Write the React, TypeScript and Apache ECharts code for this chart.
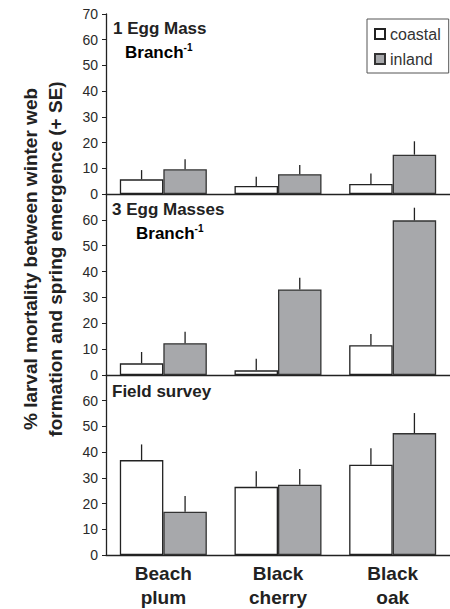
import React, { useEffect, useRef } from "react";
import * as echarts from "echarts";

const categories = ["Beach\nplum", "Black\ncherry", "Black\noak"];
const yTicks = { min: 0, max: 70, interval: 10 };

// Panel 1: 1 Egg Mass Branch-1
const p1Coastal = [5.7, 3.1, 3.9];
const p1CoastalSE = [3.6, 3.6, 4.1];
const p1Inland = [9.6, 7.7, 15.3];
const p1InlandSE = [3.9, 3.6, 5.2];
// Panel 2: 3 Egg Masses Branch-1
const p2Coastal = [4.5, 1.8, 11.5];
const p2CoastalSE = [4.4, 4.5, 4.4];
const p2Inland = [12.3, 33.1, 59.8];
const p2InlandSE = [4.4, 4.5, 4.9];
// Panel 3: Field survey
const p3Coastal = [36.9, 26.5, 35.1];
const p3CoastalSE = [6.1, 6.1, 6.4];
const p3Inland = [16.8, 27.3, 47.4];
const p3InlandSE = [6.1, 6.1, 7.8];

const FONT = "'Liberation Sans', Arial, sans-serif";
const TXT = "#222";
const BAR_W = 43.5;
const COASTAL_FILL = "#ffffff";
const INLAND_FILL = "#a7a8ab";

export default function App() {
  const ref = useRef<HTMLDivElement>(null);
  useEffect(() => {
    if (!ref.current) return;
    const chart = echarts.init(ref.current, null, { renderer: "svg" });

    const panels = [
      { c: p1Coastal, cse: p1CoastalSE, i: p1Inland, ise: p1InlandSE },
      { c: p2Coastal, cse: p2CoastalSE, i: p2Inland, ise: p2InlandSE },
      { c: p3Coastal, cse: p3CoastalSE, i: p3Inland, ise: p3InlandSE },
    ];
    const gridTops = [14, 194, 375];
    const gridHeights = [180, 181, 180];

    const grids = gridTops.map((t, k) => ({ left: 106, width: 347, top: t, height: gridHeights[k] }));
    const xAxes = gridTops.map((_, k) => ({
      type: "category",
      gridIndex: k,
      data: categories,
      axisTick: { show: false },
      axisLine: { lineStyle: { color: TXT, width: 1.3 } },
      axisLabel: {
        show: k === 2,
        color: TXT,
        fontFamily: FONT,
        fontSize: 19,
        fontWeight: "bold",
        lineHeight: 24,
        margin: 6,
      },
    }));
    const yAxes = gridTops.map((_, k) => ({
      type: "value",
      gridIndex: k,
      min: yTicks.min,
      max: yTicks.max,
      interval: yTicks.interval,
      splitLine: { show: false },
      axisLine: { show: true, lineStyle: { color: TXT, width: 1.3 } },
      axisTick: { show: true, length: 4, lineStyle: { color: TXT } },
      axisLabel: {
        color: "#2a2a2a",
        fontFamily: FONT,
        fontSize: 14,
        margin: 8,
        showMaxLabel: k === 0,
        formatter: (v: number) => (k !== 0 && v === 70 ? "" : String(v)),
      },
    }));

    const errRender = (offsetSign: number) => (params: any, api: any) => {
      const cat = api.value(0);
      const v = api.value(1);
      const se = api.value(2);
      const p0 = api.coord([cat, v]);
      const p1 = api.coord([cat, v + se]);
      const x = p0[0] + offsetSign * (BAR_W / 2);
      return {
        type: "line",
        shape: { x1: x, y1: p0[1], x2: x, y2: p1[1] },
        style: { stroke: "#222", lineWidth: 1.3 },
        z2: 10,
      };
    };

    const series: any[] = [];
    panels.forEach((p, k) => {
      series.push({
        name: "coastal",
        type: "bar",
        xAxisIndex: k,
        yAxisIndex: k,
        data: p.c,
        barWidth: BAR_W,
        barGap: "0%",
        itemStyle: { color: COASTAL_FILL, borderColor: "#222", borderWidth: 1.3 },
      });
      series.push({
        name: "inland",
        type: "bar",
        xAxisIndex: k,
        yAxisIndex: k,
        data: p.i,
        barWidth: BAR_W,
        barGap: "0%",
        itemStyle: { color: INLAND_FILL, borderColor: "#333", borderWidth: 1.3 },
      });
      series.push({
        type: "custom",
        xAxisIndex: k,
        yAxisIndex: k,
        data: p.c.map((v, j) => [j, v, p.cse[j]]),
        encode: { x: 0, y: 1 },
        renderItem: errRender(-1),
        z: 5,
      });
      series.push({
        type: "custom",
        xAxisIndex: k,
        yAxisIndex: k,
        data: p.i.map((v, j) => [j, v, p.ise[j]]),
        encode: { x: 0, y: 1 },
        renderItem: errRender(1),
        z: 5,
      });
    });

    const titleStyle = { fontFamily: FONT, fontSize: 17, fontWeight: "bold", fill: TXT };
    const branchRich = {
      a: { fontFamily: FONT, fontSize: 17, fontWeight: "bold", color: TXT, lineHeight: 20 },
      s: { fontFamily: FONT, fontSize: 10, fontWeight: "bold", color: TXT, verticalAlign: "top", lineHeight: 20 },
    };

    chart.setOption({
      animation: false,
      grid: grids,
      xAxis: xAxes,
      yAxis: yAxes,
      series,
      legend: {
        data: ["coastal", "inland"],
        orient: "vertical",
        left: 367,
        top: 19,
        padding: [7, 8, 6, 7],
        itemGap: 9,
        itemWidth: 10,
        itemHeight: 10,
        icon: "rect",
        selectedMode: false,
        borderColor: "#555",
        borderWidth: 1,
        borderRadius: 0,
        textStyle: { fontFamily: FONT, fontSize: 16, lineHeight: 16, color: "#333" },
      },
      graphic: [
        { type: "text", left: 113, top: 20, style: { text: "1 Egg Mass", ...titleStyle } },
        {
          type: "text",
          left: 125,
          top: 42,
          style: { text: "{a|Branch}{s|-1}", rich: branchRich },
        },
        { type: "text", left: 112, top: 201, style: { text: "3 Egg Masses", ...titleStyle } },
        {
          type: "text",
          left: 136,
          top: 223,
          style: { text: "{a|Branch}{s|-1}", rich: branchRich },
        },
        { type: "text", left: 112, top: 383, style: { text: "Field survey", ...titleStyle } },
        {
          type: "text",
          x: 43,
          y: 259,
          rotation: Math.PI / 2,
          style: {
            text: "% larval mortality between winter web\nformation and spring emergence (+ SE)",
            fontFamily: FONT,
            fontSize: 19,
            fontWeight: "bold",
            lineHeight: 25,
            fill: TXT,
            align: "center",
            verticalAlign: "middle",
          },
        },
      ],
    });
    return () => chart.dispose();
  }, []);
  return (
    <div
      ref={ref}
      style={{ position: "absolute", left: 0, top: 0, width: 450, height: 609, background: "#fff" }}
    />
  );
}
